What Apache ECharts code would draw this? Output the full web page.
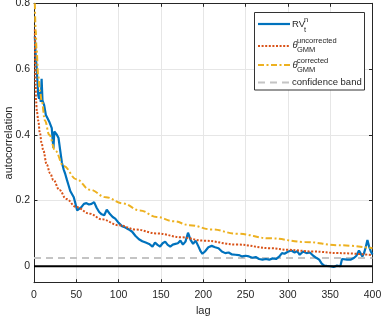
<!DOCTYPE html>
<html>
<head>
<meta charset="utf-8">
<script src="https://cdn.jsdelivr.net/npm/echarts@6/dist/echarts.min.js"></script>
<style>
html,body{margin:0;padding:0;background:#fff;}
#chart{width:381px;height:317px;}
</style>
</head>
<body>
<div id="chart"></div>
<script>
// ---- data ----
var xTicks = [0, 50, 100, 150, 200, 250, 300, 350, 400];
var yTicks = [0, 0.2, 0.4, 0.6, 0.8];

var rvLags = [1,2,3,4,5,6,7,8,9,10,12,14,16,18,20,21,22,23,24,25,27,29,31,33,35,37,39,41,43,45,47,49,51,53,56,59,62,65,68,71,74,77,80,83,86,88,90,93,96,100,104,108,112,116,120,124,128,132,136,140,143,146,149,152,155,158,161,164,167,170,173,176,179,182,183,185,188,191,194,197,199,202,206,210,214,218,222,226,230,234,238,242,246,250,254,258,262,266,270,274,278,282,286,290,293,296,300,304,308,311,314,318,322,326,330,334,337,340,343,346,350,354,358,362,364,366,370,374,378,381,384,386,388,390,392,394,396,398,400];
var rvValues = [0.70,0.64,0.61,0.605,0.52,0.51,0.53,0.50,0.57,0.505,0.49,0.46,0.45,0.44,0.435,0.42,0.385,0.36,0.41,0.405,0.40,0.39,0.352,0.315,0.295,0.28,0.262,0.245,0.228,0.232,0.21,0.19,0.17,0.172,0.18,0.19,0.192,0.188,0.19,0.195,0.178,0.165,0.158,0.155,0.172,0.168,0.158,0.15,0.145,0.132,0.122,0.118,0.112,0.105,0.092,0.082,0.076,0.072,0.068,0.06,0.072,0.065,0.06,0.07,0.075,0.065,0.06,0.066,0.068,0.07,0.078,0.066,0.075,0.102,0.098,0.08,0.068,0.078,0.062,0.045,0.038,0.045,0.058,0.062,0.058,0.055,0.045,0.04,0.042,0.036,0.035,0.034,0.03,0.032,0.03,0.026,0.028,0.022,0.02,0.022,0.02,0.024,0.022,0.03,0.04,0.038,0.044,0.048,0.042,0.046,0.035,0.045,0.04,0.042,0.032,0.025,0.02,0.008,0.002,0.001,0.0,-0.002,0.002,0.0,0.022,0.018,0.02,0.02,0.025,0.032,0.048,0.045,0.03,0.04,0.058,0.08,0.06,0.045,0.036];

var uncLags = [1,2,2.4,3.5,5,7,9,11,15,19,23,30,38,50,66,80,100,120,145,175,200,240,280,300,330,360,400];
var uncValues = [0.72,0.55,0.504,0.47,0.443,0.405,0.375,0.352,0.31,0.283,0.262,0.232,0.205,0.18,0.16,0.143,0.125,0.112,0.10,0.088,0.078,0.066,0.055,0.05,0.045,0.040,0.034];

var corLags = [1,2,3,5,7,9,13,18,25,35,50,66,85,105,125,145,165,184,210,240,279,320,360,400];
var corValues = [0.80,0.72,0.66,0.58,0.535,0.504,0.443,0.40,0.352,0.305,0.265,0.233,0.21,0.191,0.17,0.150,0.137,0.125,0.112,0.099,0.085,0.074,0.064,0.055];

var bandLags = [0, 400];
var bandValues = [0.025, 0.025];
var zeroLags = [0, 400];
var zeroValues = [0, 0];

function pairs(xs, ys) { return xs.map(function (x, i) { return [x, ys[i]]; }); }

var FONT = '"Liberation Sans", Arial, Helvetica, sans-serif';
var AX = '#262626';
var chart = echarts.init(document.getElementById('chart'), null, {renderer: 'canvas'});

var plain = {show: false};
var option = {
  backgroundColor: '#ffffff',
  animation: false,
  grid: {left: 34, right: 8.5, top: 3.3, bottom: 34.3, containLabel: false, outerBoundsMode: 'none'},
  xAxis: [{
    type: 'value', min: 0, max: 400, interval: 50, position: 'bottom',
    name: 'lag', nameLocation: 'middle', nameGap: 23, nameMoveOverlap: false,
    nameTextStyle: {fontFamily: FONT, fontSize: 11, color: AX},
    axisLine: {show: true, onZero: false, lineStyle: {color: AX, width: 1}},
    axisTick: {show: true, inside: true, length: 3.5, lineStyle: {color: AX}},
    axisLabel: {fontFamily: FONT, fontSize: 10.5, color: AX, margin: 7,
      customValues: xTicks},
    splitLine: {show: true, lineStyle: {color: '#e6e6e6', width: 1}}
  }, {
    type: 'value', min: 0, max: 400, interval: 50, position: 'top',
    axisLine: {show: true, onZero: false, lineStyle: {color: AX, width: 1}},
    axisTick: {show: true, inside: true, length: 3.5, lineStyle: {color: AX}},
    axisLabel: plain, splitLine: plain
  }],
  yAxis: [{
    type: 'value', min: -0.05, max: 0.8, position: 'left',
    name: 'autocorrelation', nameLocation: 'middle', nameGap: 20, nameMoveOverlap: false,
    nameTextStyle: {fontFamily: FONT, fontSize: 11, color: AX},
    axisLine: {show: true, onZero: false, lineStyle: {color: AX, width: 1}},
    axisTick: {show: true, inside: true, length: 3.5, lineStyle: {color: AX}, customValues: yTicks},
    axisLabel: {fontFamily: FONT, fontSize: 10.5, color: AX, margin: 4, customValues: yTicks,
      formatter: function (v) { return String(Math.round(v * 10) / 10); }},
    splitLine: {show: true, lineStyle: {color: '#e6e6e6', width: 1}}
  }, {
    type: 'value', min: -0.05, max: 0.8, position: 'right',
    axisLine: {show: true, onZero: false, lineStyle: {color: AX, width: 1}},
    axisTick: {show: true, inside: true, length: 3.5, lineStyle: {color: AX}, customValues: yTicks},
    axisLabel: {show: false, customValues: yTicks}, splitLine: plain
  }],
  series: [
    {type: 'line', name: 'RV', data: pairs(rvLags, rvValues), showSymbol: false,
      lineStyle: {color: '#0072BD', width: 2.2}, itemStyle: {color: '#0072BD'}, z: 3},
    {type: 'line', name: 'unc', data: pairs(uncLags, uncValues), showSymbol: false,
      smooth: 0.4, smoothMonotone: 'x',
      lineStyle: {color: '#D95319', width: 2, type: [2, 1.6]}, itemStyle: {color: '#D95319'}, z: 4},
    {type: 'line', name: 'cor', data: pairs(corLags, corValues), showSymbol: false,
      smooth: 0.4, smoothMonotone: 'x',
      lineStyle: {color: '#EDB120', width: 2, type: [6, 2.5, 2, 2.5]}, itemStyle: {color: '#EDB120'}, z: 4},
    {type: 'line', name: 'band', data: pairs(bandLags, bandValues), showSymbol: false,
      lineStyle: {color: '#c4c4c4', width: 2, type: [7, 5]}, z: 2},
    {type: 'line', name: 'zero', data: pairs(zeroLags, zeroValues), showSymbol: false,
      lineStyle: {color: '#000000', width: 2}, z: 5}
  ],
  graphic: [
    {type: 'rect', shape: {x: 254.5, y: 12.5, width: 110, height: 77.5},
      style: {fill: '#ffffff', stroke: '#333333', lineWidth: 1}, z: 100},
    {type: 'line', shape: {x1: 258, y1: 24, x2: 290, y2: 24},
      style: {stroke: '#0072BD', lineWidth: 2.2}, z: 101},
    {type: 'line', shape: {x1: 258, y1: 46, x2: 290, y2: 46},
      style: {stroke: '#D95319', lineWidth: 2, lineDash: [2, 1.6]}, z: 101},
    {type: 'line', shape: {x1: 258, y1: 65, x2: 290, y2: 65},
      style: {stroke: '#EDB120', lineWidth: 2, lineDash: [6, 2.5, 2, 2.5]}, z: 101},
    {type: 'line', shape: {x1: 258, y1: 82.5, x2: 290, y2: 82.5},
      style: {stroke: '#c4c4c4', lineWidth: 2, lineDash: [7, 5]}, z: 101},
    {type: 'text', style: {text: 'RV', x: 292, y: 24.5, font: '9.5px ' + FONT, fill: AX, verticalAlign: 'middle'}, z: 101},
    {type: 'text', style: {text: 'n', x: 304, y: 19.5, font: '7.5px ' + FONT, fill: AX, verticalAlign: 'middle'}, z: 101},
    {type: 'text', style: {text: 't', x: 304, y: 29.5, font: '7.5px ' + FONT, fill: AX, verticalAlign: 'middle'}, z: 101},
    {type: 'text', style: {text: '\u03B8', x: 292.5, y: 45.5, font: 'italic 9.5px ' + FONT, fill: AX, verticalAlign: 'middle'}, z: 101},
    {type: 'text', style: {text: 'uncorrected', x: 297, y: 41, font: '7.5px ' + FONT, fill: AX, verticalAlign: 'middle'}, z: 101},
    {type: 'text', style: {text: 'GMM', x: 297, y: 50, font: '7.5px ' + FONT, fill: AX, verticalAlign: 'middle'}, z: 101},
    {type: 'text', style: {text: '\u03B8', x: 292.5, y: 65.5, font: 'italic 9.5px ' + FONT, fill: AX, verticalAlign: 'middle'}, z: 101},
    {type: 'text', style: {text: 'corrected', x: 297, y: 61, font: '7.5px ' + FONT, fill: AX, verticalAlign: 'middle'}, z: 101},
    {type: 'text', style: {text: 'GMM', x: 297, y: 70, font: '7.5px ' + FONT, fill: AX, verticalAlign: 'middle'}, z: 101},
    {type: 'text', style: {text: 'confidence band', x: 292, y: 82.5, font: '9.5px ' + FONT, fill: AX, verticalAlign: 'middle'}, z: 101}
  ]
};
chart.setOption(option);
</script>
</body>
</html>
